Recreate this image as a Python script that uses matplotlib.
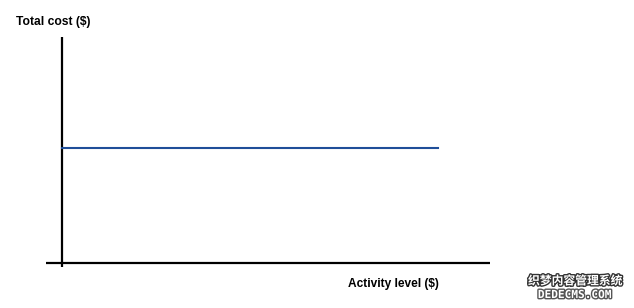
import matplotlib
matplotlib.use("Agg")
import matplotlib.pyplot as plt
import matplotlib.patheffects as pe

# Data
activity = [0, 100]
fixed_cost = [50, 50]
y_label = "Total cost ($)"
x_label = "Activity level ($)"
wm_cn = "织梦内容管理系统"
wm_en = "DEDECMS.COM"

W, H = 634, 308
fig = plt.figure(figsize=(W / 100, H / 100), dpi=100)
# axes covering pixels x 46..490, y 37..267
ax = fig.add_axes([46 / W, (H - 267) / H, (490 - 46) / W, (267 - 37) / H])
ax.set_xlim(-16 / 3.76, 428 / 3.76)
ax.set_ylim(-4 / 2.3, 226 / 2.3)
ax.axis("off")

ax.axhline(0, color="black", lw=1.6, xmin=0, xmax=1)
ax.plot([0, 0], [ax.get_ylim()[0], ax.get_ylim()[1]], color="black", lw=1.6,
        solid_capstyle="butt", clip_on=False)
ax.plot(activity, fixed_cost, color="#1f4e99", lw=1.5)

font = ["Liberation Sans", "DejaVu Sans"]
fig.text(16 / W, 1 - 22 / H, y_label, fontsize=8.7, fontweight="bold",
         family=font, va="center", ha="left")
fig.text(348 / W, 1 - 284 / H, x_label, fontsize=8.6, fontweight="bold",
         family=font, va="center", ha="left")

fig.text(575 / W, 1 - 281 / H, wm_cn, fontsize=8.5, fontweight="bold",
         family=["Noto Sans CJK SC", "DejaVu Sans"], va="center", ha="center",
         color="white",
         path_effects=[pe.withStroke(linewidth=2, foreground="#333333")])
fig.text(575 / W, 1 - 295 / H, wm_en, fontsize=8,
         fontweight="bold", family=["DejaVu Sans Mono", "DejaVu Sans"],
         va="center", ha="center", color="white",
         path_effects=[pe.withStroke(linewidth=2, foreground="#555555")])

fig.savefig("out.png", dpi=100, facecolor="white")
